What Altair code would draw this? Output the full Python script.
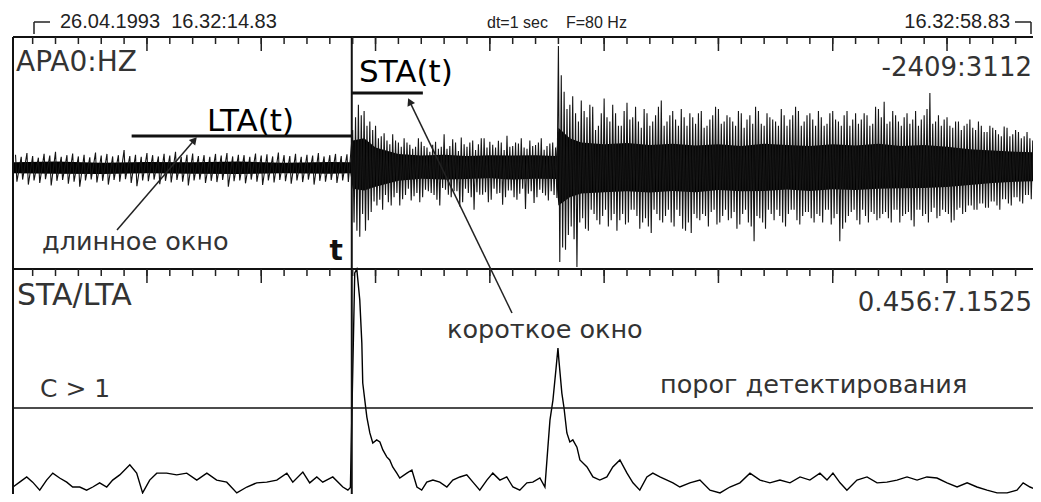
import altair as alt
import pandas as pd

# ---------------- data ----------------
T_RANGE = [14.14, 58.98]          # seconds (16:32:14.14 .. 16:32:58.98)
AMP_RANGE = [-2409, 3112]         # APA0:HZ counts
RATIO_RANGE = [0.456, 7.1525]     # STA/LTA

# seismogram swing extremes, every 0.25 s starting at 14.25 s
spike_hi = [310, 260, 350, 280, 240, 330, 290, 380, 260, 300, 340, 270, 310, 250, 360, 290, 330, 270, 300, 420,
            280, 310, 260, 350, 300, 270, 330, 290, 380, 260, 310, 340, 280, 300, 260, 330, 290, 350, 270, 310,
            300, 260, 340, 290, 320, 270, 360, 300, 280, 330, 260, 310, 290, 350, 270, 300, 330, 280, 320,
            900, 1500, 1350, 1100, 1000, 750, 650, 800, 600, 700, 550, 500, 620, 480, 550, 450, 800, 520, 600, 720,
            500, 650, 560, 700, 620, 480, 600, 760, 520, 580, 480, 650, 540, 700, 520, 600,
            2900, 1810, 1500, 1300, 1600, 1200, 1450, 1000, 1650, 1100, 1300, 1000, 1550, 1200, 1100, 1400, 1000, 1250, 1600, 1100,
            1350, 1000, 1200, 1300, 1050, 1350, 1000, 1250, 1400, 1100, 1200, 1000, 1300, 1150, 1050, 1350, 1000, 1200, 1100, 1400,
            1000, 1250, 1350, 1100, 1300, 1000, 1200, 1050, 1350, 1100, 1250, 1000, 1300, 1150, 1250, 1050, 1400, 1570, 1100, 1250,
            1000, 1300, 1150, 1000, 1250, 1780, 1100, 1000, 1200, 950, 1100, 1000, 1150, 900, 1000, 850, 950, 800, 980, 750,
            900, 700, 850, 650]
spike_lo = [-330, -280, -400, -300, -360, -270, -420, -310, -290, -380, -330, -450, -300, -280, -350, -310, -400, -290, -330, -270,
            -360, -440, -300, -320, -280, -390, -310, -350, -290, -330, -420, -300, -280, -360, -310, -340, -290, -450, -320, -300,
            -370, -280, -330, -410, -300, -350, -290, -320, -380, -300, -340, -280, -400, -310, -330, -290, -360, -300, -340,
            -1300, -1640, -1500, -1050, -900, -1000, -820, -700, -900, -650, -780, -600, -700, -560, -650, -900, -520, -700, -560, -820,
            -600, -1000, -640, -580, -760, -620, -880, -540, -700, -620, -980, -560, -700, -600, -780, -650,
            -2240, -1950, -1400, -2360, -1200, -1500, -1100, -1350, -1000, -1250, -1500, -1100, -1300, -1000, -1450, -1200, -1550, -1100, -1300, -1000,
            -1400, -1150, -1500, -1550, -1200, -1100, -1400, -1000, -1300, -1000, -1200, -1450, -1100, -1300, -1750, -1200, -1450, -1100, -1000, -1300,
            -1100, -1000, -1350, -1050, -1200, -1100, -1300, -1000, -1200, -1750, -1300, -1050, -1250, -1000, -1300, -1100, -1200, -1050, -1300, -1000,
            -1150, -1050, -1400, -1000, -1100, -1050, -1200, -1000, -1100, -1250, -950, -1050, -900, -1000, -850, -950, -800, -1000, -750, -900,
            -700, -850, -650, -800]
SPIKE_T0, SPIKE_STEP = 14.25, 0.25

# in-between swings after the onset, every 0.25 s starting at 29.125 s
spike2_hi = [1200, 1250, 1000, 900, 700, 820, 560, 650, 500, 600, 450, 700, 520, 380, 620, 500, 450, 680, 400, 560,
             600, 420, 700, 480, 550, 640, 420, 500, 600, 700, 450, 520, 600, 430, 580, 480,
             2200, 1400, 1700, 1100, 1350, 1500, 900, 1300, 1200, 1500, 1000, 1350, 1150, 1450, 950, 1300, 1100, 1450, 1000, 1250,
             1150, 1400, 1000, 1200, 1300, 950, 1150, 1450, 1050, 1250, 1100, 1350, 950, 1250, 1450, 1050, 1300, 1150, 1000, 1250,
             1150, 1450, 1000, 1250, 1150, 1350, 1000, 1300, 1150, 1000, 1350, 1150, 1050, 1300, 1000, 1450, 1200, 1050, 1350, 1100,
             1200, 1050, 1350, 1150, 1400, 1050, 1250, 1150, 1000, 1100, 900, 1050, 950, 1100, 850, 1000, 900, 750, 950, 800,
             850, 750, 700, 800]
spike2_lo = [-1500, -1100, -1250, -800, -760, -650, -900, -600, -750, -500, -680, -820, -520, -600, -760, -480, -640, -560, -920, -500,
             -700, -580, -640, -820, -500, -600, -700, -540, -760, -500, -620, -840, -520, -660, -560, -720,
             -1900, -1600, -1700, -1300, -1450, -1000, -1250, -1150, -1400, -1100, -1250, -1350, -1000, -1150, -1300, -1400, -1000, -1250, -1150, -1300,
             -1000, -1450, -1300, -1100, -1250, -1150, -1050, -1350, -1150, -1250, -1050, -1350, -1000, -1400, -1150, -1300, -1000, -1250, -1150, -1400,
             -1000, -1250, -1150, -1050, -1300, -1150, -1000, -1350, -1100, -1450, -1150, -1000, -1350, -1150, -1050, -1250, -1100, -1200, -1000, -1300,
             -1100, -1250, -1000, -1150, -1300, -950, -1150, -1050, -1300, -1000, -1100, -900, -1000, -850, -950, -800, -900, -750, -850, -700,
             -800, -650, -750, -600]
SPIKE2_T0 = 29.125

# dense core of the trace
core_t = [14.14, 16, 18, 20, 22, 24, 26, 28, 28.9, 29.0, 29.5, 30, 31, 32, 33, 34, 35, 36, 37, 37.9,
          38.0, 38.5, 39, 40, 41, 42, 43, 44, 45, 46, 47, 48, 49, 50, 51, 52, 53, 54, 55, 56, 57, 58, 58.98]
core_hi = [130, 150, 120, 140, 130, 150, 120, 140, 130, 650, 700, 480, 330, 290, 310, 280, 300, 290, 300, 280,
           950, 700, 600, 560, 590, 540, 570, 530, 560, 520, 570, 540, 520, 560, 530, 570, 520, 540, 500, 440, 410, 380, 370]
core_lo = [-130, -140, -150, -130, -140, -150, -130, -140, -130, -500, -540, -450, -310, -260, -280, -270, -250, -280, -260, -270,
           -900, -700, -610, -580, -560, -590, -550, -580, -530, -560, -550, -520, -550, -510, -530, -500, -490, -480, -460, -410, -360, -330, -320]

# STA/LTA ratio
ratio_t = [14.14, 14.43, 14.74, 15.0, 15.31, 15.61, 15.88, 16.18, 16.49, 16.75, 17.06, 17.36, 17.63, 17.93, 18.24, 18.5,
           18.81, 19.25, 19.55, 19.81, 20.12, 20.43, 20.86, 21.3, 21.74, 22.18, 22.62, 23.05, 23.49, 23.93, 24.37, 24.8,
           25.24, 25.68, 26.12, 26.38, 26.82, 27.12, 27.43, 27.69, 28.13, 28.57, 28.79,
           28.9, 29.09, 29.18, 29.31, 29.4, 29.44, 29.62, 29.75, 29.88, 30.05, 30.19, 30.32, 30.49, 30.62, 30.75, 30.93,
           31.06, 31.37, 31.59, 31.81, 32.02, 32.24, 32.51, 32.81, 33.12, 33.38, 33.69, 33.99, 34.26, 34.56, 34.87, 35.13,
           35.44, 35.74, 36.01, 36.31, 36.62, 36.88, 37.19, 37.41, 37.54, 37.63, 37.76, 37.89, 37.98, 38.02, 38.15, 38.24,
           38.37, 38.5, 38.63, 38.81, 38.94, 39.25, 39.51, 39.81, 40.12, 40.38, 40.69, 41.0, 41.26, 41.56, 41.87, 42.13,
           42.44, 42.75, 43.01, 43.31, 43.75, 44.19, 44.63, 45.07, 45.5, 45.94, 46.38, 46.82, 47.25, 47.69, 48.13, 48.57,
           49.0, 49.44, 49.75, 50.01, 50.32, 50.62, 51.06, 51.5, 51.94, 52.37, 52.81, 53.25, 53.69, 54.12, 54.56, 55.0,
           55.44, 55.88, 56.31, 56.75, 57.19, 57.63, 58.06, 58.33, 58.63, 58.94]
ratio_v = [0.86, 1.00, 1.15, 1.00, 0.77, 1.06, 1.26, 1.12, 1.00, 0.86, 0.86, 0.77, 0.86, 0.98, 0.86, 1.06,
           1.21, 1.50, 1.26, 0.69, 1.06, 1.26, 1.26, 1.21, 1.26, 1.06, 1.26, 1.06, 1.00, 0.69, 0.86, 0.98,
           1.00, 1.06, 1.26, 1.00, 1.29, 0.98, 1.15, 1.00, 1.15, 0.86, 0.77,
           0.85, 7.04, 7.15, 6.26, 5.02, 3.86, 2.88, 2.42, 2.13, 2.22, 2.16, 1.93, 1.73, 1.64, 1.44, 1.26,
           1.12, 1.26, 1.35, 0.86, 0.77, 1.00, 1.06, 1.00, 0.86, 1.06, 1.15, 1.21, 1.00, 0.77, 1.06, 1.26,
           1.06, 1.15, 0.86, 0.77, 0.98, 1.00, 1.12, 0.86, 2.01, 2.79, 3.37, 4.24, 4.87, 4.53, 3.57, 3.17,
           2.42, 2.16, 2.22, 2.01, 1.64, 1.44, 1.15, 1.06, 1.15, 1.44, 1.64, 1.26, 0.98, 0.77, 1.15, 1.26,
           1.15, 1.06, 0.98, 0.86, 0.98, 1.06, 0.77, 0.69, 0.86, 0.98, 1.26, 1.06, 0.98, 1.06, 0.98, 1.15,
           1.06, 1.26, 1.06, 1.26, 0.98, 0.77, 1.06, 1.15, 0.98, 1.00, 1.06, 1.15, 1.06, 1.15, 1.12, 0.98,
           0.86, 0.98, 0.86, 0.77, 0.69, 0.69, 0.77, 0.98, 0.86, 0.77]
assert len(ratio_t) == len(ratio_v)
assert len(spike_hi) == len(spike_lo)
assert len(spike2_hi) == len(spike2_lo)

ONSET_T = 28.96
LTA_WINDOW = [19.33, 28.96]
LTA_LEVEL = 756
STA_WINDOW = [28.96, 32.07]
STA_LEVEL = 1779
THRESHOLD = 3.14
minor_ticks = list(range(15, 59))
major_ticks = [20, 25, 30, 35, 40, 45, 50, 55]

# ---------------- layout ----------------
W = 1020          # visible plot width (page is 1025 wide inside the body margin)
XRANGE = 1025     # scale range: the record continues slightly past the right edge
PANEL = 232
H = 457
FONT = "DejaVu Sans"
INK = "#111111"

# swing table: each column gives an up-swing then a down-swing
cols = sorted(
    [(SPIKE_T0 + SPIKE_STEP * i, spike_hi[i], spike_lo[i]) for i in range(len(spike_hi))]
    + [(SPIKE2_T0 + SPIKE_STEP * i, spike2_hi[i], spike2_lo[i]) for i in range(len(spike2_hi))]
)
rows = []
for k, (t, hi, lo) in enumerate(cols):
    rows.append({"t": t, "a": hi, "k": 2 * k})
    rows.append({"t": t + 0.06, "a": lo, "k": 2 * k + 1})
trace_df = pd.DataFrame(rows)
core_df = pd.DataFrame({"t": core_t, "hi": core_hi, "lo": core_lo})
ratio_df = pd.DataFrame({"t": ratio_t, "v": ratio_v})

xs = alt.Scale(domain=T_RANGE, range=[0, XRANGE], nice=False, zero=False)
ys_top = alt.Scale(domain=AMP_RANGE, range=[PANEL, 0], nice=False, zero=False)
ys_bot = alt.Scale(domain=RATIO_RANGE, range=[2 * PANEL, PANEL], nice=False, zero=False)


def X(field):
    return alt.X(field, type="quantitative", scale=xs, axis=None)


core = alt.Chart(core_df).mark_area(color="black").encode(
    x=X("t"), y=alt.Y("hi:Q", scale=ys_top, axis=None), y2="lo:Q")
trace = alt.Chart(trace_df).mark_line(color="#151515", strokeWidth=1.1).encode(
    x=X("t"), y=alt.Y("a:Q", scale=ys_top, axis=None), order="k:Q")
ratio = alt.Chart(ratio_df).mark_line(color="black", strokeWidth=1.4).encode(
    x=X("t"), y=alt.Y("v:Q", scale=ys_bot, axis=None))

thr = alt.Chart(pd.DataFrame({"v": [THRESHOLD]})).mark_rule(color=INK, strokeWidth=1.5).encode(
    y=alt.Y("v:Q", scale=ys_bot, axis=None), x=alt.value(0), x2=alt.value(W))

onset = alt.Chart(pd.DataFrame({"t": [ONSET_T]})).mark_rule(color=INK, strokeWidth=2).encode(
    x=X("t"), y=alt.value(0), y2=alt.value(H))

windows_df = pd.DataFrame({"t0": [LTA_WINDOW[0], STA_WINDOW[0]], "t1": [LTA_WINDOW[1], STA_WINDOW[1]],
                           "lvl": [LTA_LEVEL, STA_LEVEL]})
windows = alt.Chart(windows_df).mark_rule(color=INK, strokeWidth=3).encode(
    x=X("t0"), x2="t1:Q", y=alt.Y("lvl:Q", scale=ys_top, axis=None))


def seg(x, y, x2, y2, w=1.5, color="#222"):
    return alt.Chart(pd.DataFrame({"a": [0]})).mark_rule(color=color, strokeWidth=w).encode(
        x=alt.value(x), y=alt.value(y), x2=alt.value(x2), y2=alt.value(y2))


# frame
frame = [
    seg(0, 0, 0, H, 2, INK),
    seg(0, 0, W, 0, 1.8, INK),
    seg(0, PANEL, W, PANEL, 2, INK),
]

# ticks (pointing into each panel)
minor_df = pd.DataFrame({"t": minor_ticks})
major_df = pd.DataFrame({"t": major_ticks})
ticks = []
for y0 in (0, PANEL):
    ticks.append(alt.Chart(minor_df).mark_tick(color="#222", thickness=1.5, size=7, opacity=1).encode(
        x=X("t"), y=alt.value(y0 + 3.5)))
    ticks.append(alt.Chart(major_df).mark_tick(color="#222", thickness=1.5, size=14, opacity=1).encode(
        x=X("t"), y=alt.value(y0 + 7)))


def label(text, x, y, size, align="left", weight="normal", color=INK, font=FONT):
    return alt.Chart(pd.DataFrame({"s": [text]})).mark_text(
        align=align, baseline="alphabetic", fontSize=size, font=font, fontWeight=weight, color=color
    ).encode(x=alt.value(x), y=alt.value(y), text="s:N")


def head(x, y, angle):
    return alt.Chart(pd.DataFrame({"a": [0]})).mark_point(
        shape="triangle-up", filled=True, size=70, angle=angle, color="#222", opacity=1
    ).encode(x=alt.value(x), y=alt.value(y))


NB = "\u00a0"
texts = [
    label("26.04.1993" + NB + NB + "16.32:14.83", 47, -9, 20, font="Liberation Sans", color="#222"),
    label("dt=1" + NB + "sec", 474, -9, 16, font="Liberation Sans", color="#222"),
    label("F=80" + NB + "Hz", 553, -9, 16, font="Liberation Sans", color="#222"),
    label("16.32:58.83", 997, -9, 20, align="right", font="Liberation Sans", color="#222"),
    label("APA0:HZ", 3, 34, 28, color="#333"),
    label("-2409:3112", 1019, 39, 26, align="right", color="#333"),
    label("LTA(t)", 194, 94, 31, color="black"),
    label("STA(t)", 346, 45, 31, color="black"),
    label("длинное" + NB + "окно", 29, 213, 25.5, color="#333"),
    label("t", 330, 223, 28, align="right", weight="bold"),
    label("STA/LTA", 4, 268, 30, color="#333"),
    label("0.456:7.1525", 1019, 274, 26, align="right", color="#333"),
    label("короткое" + NB + "окно", 434, 301, 25.5, color="#333"),
    label("C > 1", 27, 360, 25, color="#333"),
    label("порог" + NB + "детектирования", 647, 356, 25.5, color="#333"),
]

annot = [
    # time brackets
    seg(21, -15, 21, -3, 1.5), seg(21, -15, 37, -15, 1.5),
    seg(1002, -15, 1018, -15, 1.5), seg(1018, -15, 1018, -3, 1.5),
    # arrows
    seg(104, 193, 181.4, 103, 1.5), head(181.4, 103, 41),
    seg(499, 276, 396.7, 64.6, 1.5), head(396.7, 64.6, 334),
]

chart = alt.layer(core, trace, ratio, thr, onset, windows, *frame, *ticks, *texts, *annot).resolve_scale(
    y="independent"
).properties(
    width=W, height=H,
    autosize=alt.AutoSizeParams(type="none"),
    padding={"left": 5, "top": 29, "right": 0, "bottom": 0},
    background="white",
).configure_view(stroke=None)

chart.save("out.html", embed_options={"renderer": "svg", "actions": False})
